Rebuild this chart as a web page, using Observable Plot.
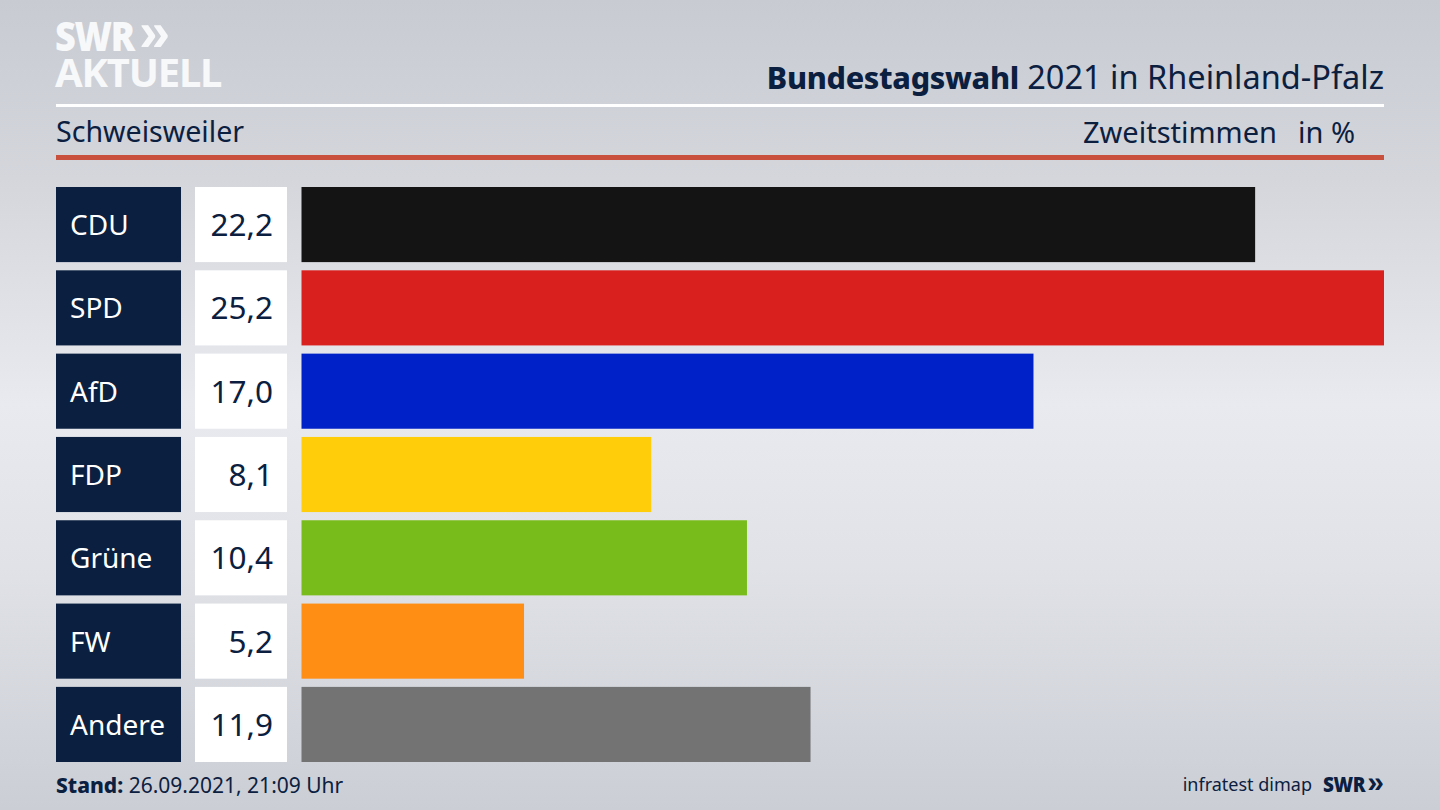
<!DOCTYPE html>
<html lang="de">
<head>
<meta charset="utf-8">
<title>Bundestagswahl 2021 in Rheinland-Pfalz</title>
<script src="https://cdn.jsdelivr.net/npm/d3@7"></script>
<script src="https://cdn.jsdelivr.net/npm/@observablehq/plot@0.6"></script>
<style>
  html, body { margin: 0; padding: 0; }
  body {
    width: 1440px; height: 810px; overflow: hidden; position: relative;
    font-family: "Noto Sans", sans-serif; color: #0b2040;
    background: linear-gradient(180deg, #c8cbd2 0%, #d4d6dc 22%, #e9eaef 50%, #e0e2e7 70%, #cbced5 100%);
  }
  .abs { position: absolute; white-space: nowrap; line-height: 1; }
  #logo1 { left: 55px; top: 19px; width: 116px; height: 32px; font: 800 41px/32px "Open Sans", sans-serif; color: #f7f8f9; }
  #logo1 .word { display: inline-block; transform: scaleX(0.88); transform-origin: left center; letter-spacing: -1.5px; }
  #logo1 .arrows { position: absolute; left: 84px; top: -3px; font: 700 56px/32px "Liberation Sans", sans-serif; }
  #logo2 { left: 55px; top: 57px; font: 700 40px/30px "Noto Sans", sans-serif; color: #f7f8f9; letter-spacing: -1.2px; }
  #title { right: 56px; top: 61px; font-size: 32.5px; }
  #title b { font-weight: 800; font-size: 30.5px; letter-spacing: -0.3px; }
  #rule1 { left: 56px; top: 104px; width: 1328px; height: 3px; background: #fff; }
  #place { left: 56px; top: 117px; font-size: 28.6px; }
  #kind { right: 163px; top: 117px; font-size: 29px; }
  #unit { right: 85px; top: 117px; font-size: 29px; }
  #rule2 { left: 56px; top: 155px; width: 1328px; height: 5px; background: #c9503c; }
  #chart { position: absolute; left: 0; top: 187px; }
  #stand { left: 56px; top: 775px; font-size: 21px; }
  #stand b { font-weight: 800; }
  #source { right: 128px; top: 775px; font-size: 18px; }
  #swr { right: 56px; top: 773px; width: 61px; height: 22px; font: 800 21px/22px "Open Sans", sans-serif; }
  #swr .word { display: inline-block; transform: scaleX(0.9); transform-origin: left center; letter-spacing: -0.5px; }
  #swr .arrows { position: absolute; right: 0; top: -2px; font: 700 30px/22px "Liberation Sans", sans-serif; }
</style>
</head>
<body>
<div class="abs" id="logo1"><span class="word">SWR</span><span class="arrows">»</span></div>
<div class="abs" id="logo2">AKTUELL</div>
<div class="abs" id="title"><b>Bundestagswahl</b> 2021 in Rheinland-Pfalz</div>
<div class="abs" id="rule1"></div>
<div class="abs" id="place">Schweisweiler</div>
<div class="abs" id="kind">Zweitstimmen</div>
<div class="abs" id="unit">in %</div>
<div class="abs" id="rule2"></div>
<div id="chart"></div>
<div class="abs" id="stand"><b>Stand:</b> 26.09.2021, 21:09 Uhr</div>
<div class="abs" id="source">infratest dimap</div>
<div class="abs" id="swr"><span class="word">SWR</span><span class="arrows">»</span></div>
<script>
const parties = ["CDU", "SPD", "AfD", "FDP", "Grüne", "FW", "Andere"];
// Printed one-decimal labels, and the bar lengths.
const shareLabels = ["22,2", "25,2", "17,0", "8,1", "10,4", "5,2", "11,9"];
const barLengths = [22.2, 25.2, 17.04, 8.14, 10.37, 5.18, 11.85];
const partyColors = ["#141414", "#d9201f", "#0021c7", "#ffcd09", "#78bc1b", "#ff8e15", "#737374"];

const rows = parties.map((party, i) => ({party, share: barLengths[i], label: shareLabels[i]}));

// The two label boxes sit left of the zero line, on the same x scale as the bars.
const nameBox = [-5.715, -2.805];
const valueBox = [-2.479, -0.338];
const navy = "#0b2040";

const chart = Plot.plot({
  width: 1440,
  height: 575,
  marginTop: 0,
  marginBottom: 0,
  marginLeft: 301.5,
  marginRight: 56,
  style: {background: "transparent", fontFamily: '"Noto Sans", sans-serif'},
  x: {domain: [0, 25.2], axis: null},
  y: {domain: parties, axis: null, paddingInner: 0.0985, paddingOuter: 0, round: false},
  color: {domain: parties, range: partyColors},
  marks: [
    Plot.barX(rows, {y: "party", x1: () => nameBox[0], x2: () => nameBox[1], fill: navy}),
    Plot.barX(rows, {y: "party", x1: () => valueBox[0], x2: () => valueBox[1], fill: "#ffffff"}),
    Plot.barX(rows, {y: "party", x1: () => 0, x2: "share", fill: "party"}),
    Plot.text(rows, {y: "party", x: () => nameBox[0], text: "party", textAnchor: "start", dx: 13.5, dy: 1, fill: "#ffffff", fontSize: 28}),
    Plot.text(rows, {y: "party", x: () => valueBox[1], text: "label", textAnchor: "end", dx: -14.5, dy: 1, fill: navy, fontSize: 31.5})
  ]
});
document.getElementById("chart").append(chart);
</script>
</body>
</html>
